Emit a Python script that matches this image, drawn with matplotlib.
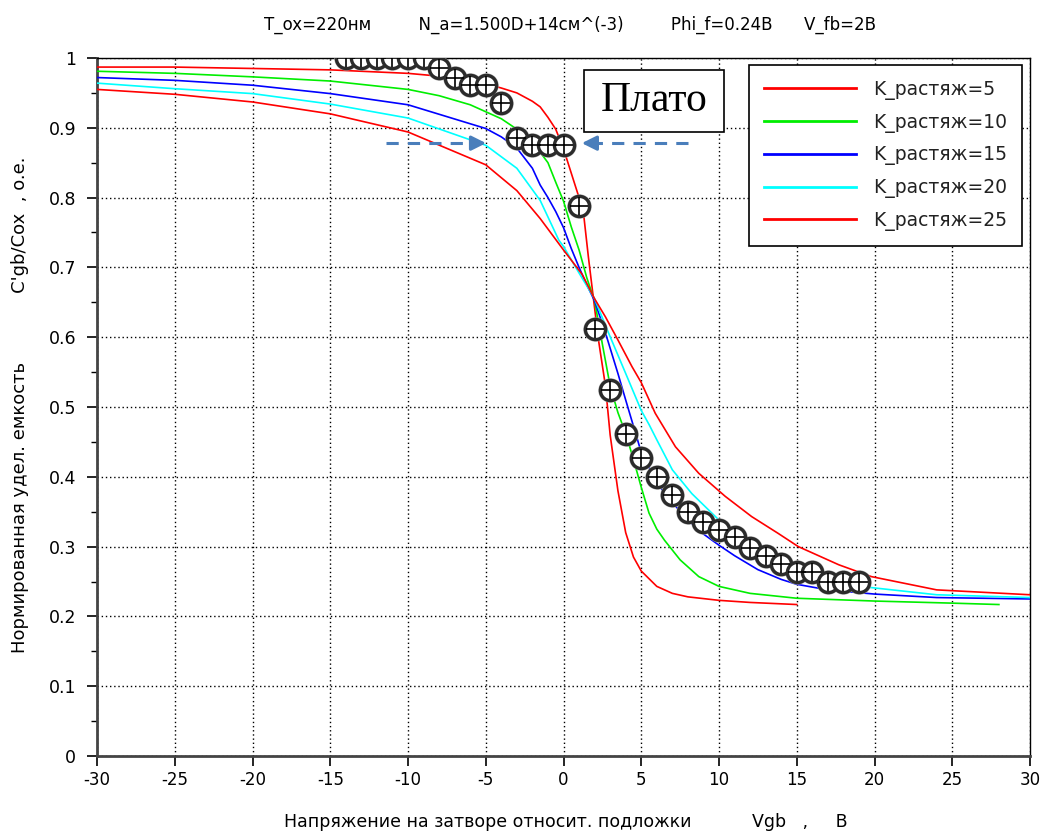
import numpy as np
import matplotlib
matplotlib.use('Agg')
import matplotlib.pyplot as plt
from matplotlib.patches import Rectangle

plt.rcParams['font.family'] = ['DejaVu Sans']

# Curves: gate voltage (V) and normalised capacitance
vgb_k5 = [-30, -25, -20, -15, -10, -7, -5, -4, -3, -2, -1.5, -1, -0.5, 0, 0.5, 1, 1.3, 1.6, 1.9,
          2.25, 2.7, 3.0, 3.5, 4.0, 4.5, 5, 6, 7, 8, 10, 12, 15]
c_k5 = [0.987, 0.987, 0.985, 0.983, 0.978, 0.972, 0.963, 0.957, 0.950, 0.938, 0.930, 0.915, 0.898,
        0.870, 0.835, 0.800, 0.775, 0.715, 0.660, 0.596, 0.530, 0.460, 0.380, 0.320, 0.285, 0.265,
        0.243, 0.233, 0.228, 0.223, 0.220, 0.217]

vgb_k10 = [-30, -25, -20, -15, -10, -8, -6, -4, -3, -2, -1, -0.5, 0, 0.5, 1, 1.5, 2, 2.5, 3, 3.5,
           4, 4.5, 5, 5.5, 6, 6.5, 7.5, 8.7, 10, 12, 15, 20, 25, 28]
c_k10 = [0.981, 0.978, 0.973, 0.967, 0.955, 0.946, 0.933, 0.913, 0.898, 0.880, 0.850, 0.822, 0.795,
         0.758, 0.725, 0.685, 0.652, 0.590, 0.530, 0.492, 0.462, 0.425, 0.385, 0.348, 0.325, 0.309,
         0.281, 0.257, 0.243, 0.233, 0.226, 0.222, 0.219, 0.217]

vgb_k15 = [-30, -25, -20, -15, -10, -5, -4, -3, -2, -1.5, -1, -0.5, 0, 0.5, 1, 1.5, 2, 2.7, 3.5, 4,
           4.4, 5, 5.7, 6.5, 7.6, 8, 9, 10, 11, 12.5, 14, 15, 17, 20, 24, 30]
c_k15 = [0.972, 0.968, 0.961, 0.949, 0.933, 0.899, 0.887, 0.871, 0.842, 0.818, 0.800, 0.780, 0.757,
         0.727, 0.700, 0.675, 0.652, 0.606, 0.548, 0.510, 0.480, 0.435, 0.405, 0.376, 0.348, 0.338,
         0.318, 0.302, 0.287, 0.267, 0.253, 0.246, 0.238, 0.232, 0.227, 0.225]

vgb_k20 = [-30, -25, -20, -15, -10, -5, -3, -1.5, -0.3, 0, 1, 2, 2.9, 4, 5, 5.5, 6, 7, 8.25, 10,
           11.7, 13, 15, 17, 19.5, 24, 30]
c_k20 = [0.964, 0.956, 0.949, 0.934, 0.914, 0.875, 0.842, 0.796, 0.739, 0.730, 0.692, 0.655, 0.606,
         0.548, 0.495, 0.475, 0.453, 0.410, 0.376, 0.338, 0.305, 0.290, 0.270, 0.255, 0.242, 0.231,
         0.227]

vgb_k25 = [-30, -25, -20, -15, -10, -5, -3, -1.5, 0, 1.2, 2, 2.7, 3.5, 4.4, 5, 5.9, 7.2, 8.7, 10.4,
           12.1, 13.8, 15.1, 17.7, 19.8, 24, 30]
c_k25 = [0.955, 0.948, 0.937, 0.920, 0.894, 0.847, 0.810, 0.770, 0.725, 0.690, 0.655, 0.629, 0.596,
         0.558, 0.535, 0.491, 0.443, 0.405, 0.372, 0.343, 0.319, 0.300, 0.274, 0.257, 0.238, 0.231]

# Experimental points
vgb_exp = list(range(-14, 20))
c_exp = [1.0, 1.0, 1.0, 1.0, 1.0, 1.0, 0.985, 0.972, 0.961, 0.961, 0.935, 0.886, 0.875, 0.875, 0.875,
         0.788, 0.612, 0.524, 0.462, 0.427, 0.400, 0.374, 0.350, 0.335, 0.324, 0.314, 0.298, 0.287,
         0.275, 0.264, 0.264, 0.250, 0.250, 0.250]

labels = ['K_растяж=5', 'K_растяж=10', 'K_растяж=15', 'K_растяж=20', 'K_растяж=25']
colors = ['#ff0000', '#00ee00', '#0000ff', '#00ffff', '#ff0000']
curves = [(vgb_k5, c_k5), (vgb_k10, c_k10), (vgb_k15, c_k15), (vgb_k20, c_k20), (vgb_k25, c_k25)]

fig = plt.figure(figsize=(10.46, 8.36), dpi=100)
ax = fig.add_axes([97 / 1046, 80 / 836, 933 / 1046, 698 / 836])

lines = []
for (x, y), col, lab in zip(curves, colors, labels):
    ln, = ax.plot(x, y, color=col, lw=1.2, label=lab, zorder=3)
    lines.append(ln)

# circle-plus markers
ax.plot(vgb_exp, c_exp, ls='none', marker='o', ms=16.5, mfc='none', mec='#a0a0a0', mew=1.0, zorder=4)
ax.plot(vgb_exp, c_exp, ls='none', marker='o', ms=14.5, mfc='white', mec='#2b2b2b', mew=2.4, zorder=5)
ax.plot(vgb_exp, c_exp, ls='none', marker='+', ms=13.5, mec='black', mew=1.2, zorder=6)

ax.set_xlim(-30, 30)
ax.set_ylim(0, 1)
ax.set_xticks(np.arange(-30, 31, 5))
ax.set_xticklabels([str(v) for v in range(-30, 31, 5)], fontsize=12)
ax.set_yticks(np.arange(0, 1.01, 0.1))
ax.set_yticklabels(['0', '0.1', '0.2', '0.3', '0.4', '0.5', '0.6', '0.7', '0.8', '0.9', '1'], fontsize=12.5)
ax.set_yticks(np.arange(0.05, 1, 0.1), minor=True)
ax.tick_params(axis='x', which='major', direction='out', length=7, width=1.2, pad=4)
ax.tick_params(axis='y', which='major', direction='out', length=7, width=1.2, pad=8)
ax.tick_params(axis='y', which='minor', direction='out', length=4, width=1)
ax.grid(True, which='major', color='black', ls=(0, (1, 2)), lw=1.0)

for s in ['bottom', 'left']:
    ax.spines[s].set_linewidth(2)
    ax.spines[s].set_color('#444444')
for s in ['top', 'right']:
    ax.spines[s].set_linewidth(1)

leg = ax.legend(handles=lines, loc='upper right', bbox_to_anchor=(0.9914, 0.99), borderaxespad=0,
                fontsize=13.5, frameon=True, fancybox=False, edgecolor='black', framealpha=1,
                handlelength=4.9, handletextpad=0.9, labelspacing=0.68, borderpad=0.8)
leg.get_frame().set_linewidth(1.2)
leg.set_zorder(10)
for t in leg.get_texts():
    t.set_color('#222222')
for h in leg.legend_handles:
    h.set_linewidth(2)

# "Плато" annotation
ax.add_patch(Rectangle((1.3, 0.894), 9.0, 0.089, facecolor='white', edgecolor='black', lw=1.2, zorder=8))
ax.text(5.8, 0.9385, 'Плато', family=['Liberation Serif', 'DejaVu Serif'], fontsize=30,
        ha='center', va='center', zorder=9)

arrow_col = '#4a7ebb'
ax.plot([-11.4, -5.8], [0.878, 0.878], color=arrow_col, lw=2.2, ls=(0, (4, 3)), zorder=7)
ax.annotate('', xy=(-4.8, 0.878), xytext=(-6.0, 0.878),
            arrowprops=dict(arrowstyle='-|>', color=arrow_col, lw=2.2, mutation_scale=22), zorder=7)
ax.plot([8.0, 2.1], [0.878, 0.878], color=arrow_col, lw=2.2, ls=(0, (4, 3)), zorder=7)
ax.annotate('', xy=(1.0, 0.878), xytext=(2.2, 0.878),
            arrowprops=dict(arrowstyle='-|>', color=arrow_col, lw=2.2, mutation_scale=22), zorder=7)

fig.text(0.545, 0.970,
         'T_ox=220нм         N_a=1.500D+14см^(-3)         Phi_f=0.24В      V_fb=2В',
         ha='center', va='center', fontsize=12)
fig.text(0.541, 0.017,
         'Напряжение на затворе относит. подложки           Vgb   ,     В',
         ha='center', va='center', fontsize=12.5)
fig.text(0.019, 0.516,
         'Нормированная удел. емкость            C\'gb/Cox  , o.e.',
         ha='center', va='center', rotation=90, fontsize=13)

fig.savefig('out.png', dpi=100)
